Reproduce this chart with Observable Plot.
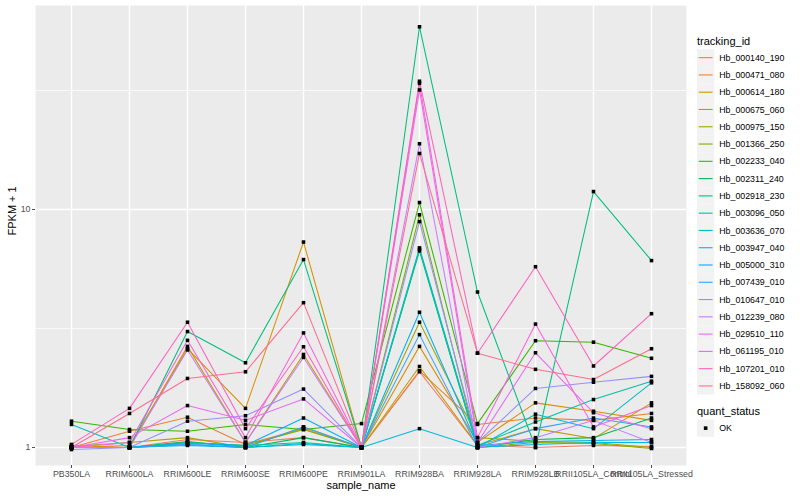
<!DOCTYPE html>
<html><head><meta charset="utf-8">
<script src="https://cdn.jsdelivr.net/npm/d3@7"></script>
<script src="https://cdn.jsdelivr.net/npm/@observablehq/plot@0.6"></script>
<style>
body{margin:0;background:#fff;font-family:"Liberation Sans",Arial,Helvetica,sans-serif}
#wrap{position:relative;width:800px;height:500px}
#legend{position:absolute;left:0;top:0;pointer-events:none}
</style></head><body><div id="wrap"></div>
<script>
const samples = ["PB350LA","RRIM600LA","RRIM600LE","RRIM600SE","RRIM600PE","RRIM901LA","RRIM928BA","RRIM928LA","RRIM928LB","RRII105LA_Control","RRII105LA_Stressed"];
const trackingIds = ["Hb_000140_190","Hb_000471_080","Hb_000614_180","Hb_000675_060","Hb_000975_150","Hb_001366_250","Hb_002233_040","Hb_002311_240","Hb_002918_230","Hb_003096_050","Hb_003636_070","Hb_003947_040","Hb_005000_310","Hb_007439_010","Hb_010647_010","Hb_012239_080","Hb_029510_110","Hb_061195_010","Hb_107201_010","Hb_158092_060"];
const colors = ["#F8766D","#EA8331","#D89000","#C09B00","#A3A500","#7CAE00","#39B600","#00BB4E","#00BF7D","#00C1A3","#00BFC4","#00BAE0","#00B0F6","#35A2FF","#9590FF","#C77CFF","#E76BF3","#FA62DB","#FF62BC","#FF6C91"];
// FPKM + 1 per tracking_id, in sample order
const seriesValues = [
  [1.02, 1.00, 1.08, 1.05, 1.10, 1.00, 2.08, 1.02, 1.00, 1.02, 1.01],
  [1.00, 1.17, 1.34, 1.03, 1.20, 1.00, 2.10, 1.25, 1.33, 1.30, 1.39],
  [1.00, 1.02, 2.60, 1.46, 7.30, 1.00, 2.66, 1.05, 1.54, 1.42, 1.30],
  [1.00, 1.00, 2.66, 1.05, 2.46, 1.00, 2.19, 1.02, 1.20, 1.09, 1.54],
  [1.01, 1.05, 1.10, 1.00, 1.22, 1.00, 3.36, 1.10, 1.06, 1.05, 1.00],
  [1.00, 1.00, 1.05, 1.02, 1.19, 1.00, 9.50, 1.00, 1.05, 1.04, 0.99],
  [1.29, 1.19, 1.17, 1.25, 1.19, 1.26, 10.7, 1.26, 2.81, 2.77, 2.37],
  [1.00, 1.00, 1.06, 1.00, 1.10, 1.00, 6.70, 1.00, 1.08, 1.10, 1.33],
  [1.00, 1.00, 3.07, 2.27, 6.16, 1.00, 58.6, 4.50, 1.00, 11.9, 6.10],
  [1.00, 1.00, 1.05, 1.02, 1.05, 1.00, 6.90, 1.02, 1.28, 1.59, 1.90],
  [1.25, 1.00, 1.03, 1.00, 1.04, 1.00, 6.80, 1.00, 1.38, 1.20, 1.87],
  [1.00, 1.00, 1.02, 1.00, 1.03, 1.00, 1.20, 1.00, 1.03, 1.05, 1.05],
  [1.00, 1.00, 1.04, 1.02, 1.33, 1.00, 3.70, 1.02, 1.06, 1.07, 1.08],
  [1.00, 1.00, 1.03, 1.00, 1.22, 1.00, 2.98, 1.00, 1.20, 1.33, 1.22],
  [0.98, 1.00, 1.29, 1.36, 1.76, 1.00, 8.90, 1.05, 1.77, 1.88, 1.99],
  [1.00, 1.00, 2.57, 1.05, 2.39, 1.00, 18.9, 1.00, 1.10, 1.30, 1.05],
  [1.00, 1.10, 1.50, 1.30, 1.60, 1.00, 31.8, 1.05, 2.50, 1.40, 1.20],
  [1.00, 1.05, 2.82, 1.10, 3.03, 1.00, 33.9, 1.10, 3.30, 1.22, 1.50],
  [1.03, 1.46, 3.36, 1.20, 2.65, 1.00, 34.6, 2.49, 5.75, 2.20, 3.65],
  [1.00, 1.39, 1.95, 2.08, 4.06, 1.00, 17.2, 2.49, 2.13, 1.93, 2.60]
];
const majorTicks = [1, 10];
const minorTicks = [Math.sqrt(10), Math.sqrt(1000)];
const statusLevels = ["OK"];

const data = [];
trackingIds.forEach((id, i) => samples.forEach((s, j) => data.push({id, sample: s, value: seriesValues[i][j], status: "OK"})));

const font = "Liberation Sans, Arial, Helvetica, sans-serif";
const chart = Plot.plot({
  width: 800, height: 500,
  marginLeft: 35, marginRight: 114, marginTop: 5, marginBottom: 35,
  style: {fontFamily: font, background: "white", overflow: "visible"},
  x: {type: "point", domain: samples, padding: 0.6},
  y: {type: "log", domain: [0.84, 72]},
  color: {domain: trackingIds, range: colors},
  marks: [
    Plot.frame({fill: "#EBEBEB", stroke: "none"}),
    Plot.ruleY(minorTicks, {stroke: "white", strokeWidth: 0.7}),
    Plot.ruleY(majorTicks, {stroke: "white", strokeWidth: 1.4}),
    Plot.ruleX(samples, {stroke: "white", strokeWidth: 1.4}),
    Plot.line(data, {x: "sample", y: "value", z: "id", stroke: "id", strokeWidth: 1.05}),
    Plot.dot(data, {x: "sample", y: "value", r: 2, symbol: "square", fill: "black", stroke: "none"}),
    Plot.axisX({tickSize: 3, tickPadding: 2, fontSize: 8.8, color: "#4D4D4D", label: null}),
    Plot.axisY({ticks: majorTicks, tickFormat: d => String(d), tickSize: 3, tickPadding: 2, fontSize: 8.8, color: "#4D4D4D", label: null}),
    Plot.text(["sample_name"], {frameAnchor: "bottom", dy: 23, fontSize: 11, fill: "black"}),
    Plot.text(["FPKM + 1"], {frameAnchor: "left", dx: -23, rotate: -90, fontSize: 11, fill: "black"})
  ]
});
const wrap = document.getElementById("wrap");
wrap.appendChild(chart);

// legend
const svg = d3.select(wrap).append("svg").attr("id", "legend").attr("width", 800).attr("height", 500)
  .style("font-family", font);
const lx = 697, key = 17.28, top0 = 49;
svg.append("text").attr("x", lx).attr("y", 44.5).attr("font-size", 11).text("tracking_id");
trackingIds.forEach((id, i) => {
  const y = top0 + key * i;
  svg.append("rect").attr("x", lx).attr("y", y).attr("width", key).attr("height", key).attr("fill", "#F2F2F2");
  svg.append("line").attr("x1", lx + 1.7).attr("x2", lx + key - 1.7).attr("y1", y + key / 2).attr("y2", y + key / 2)
    .attr("stroke", colors[i]).attr("stroke-width", 1.1);
  svg.append("text").attr("x", lx + key + 5).attr("y", y + key / 2).attr("dy", "0.35em").attr("font-size", 8.8).text(id);
});
svg.append("text").attr("x", lx).attr("y", 414.5).attr("font-size", 11).text("quant_status");
statusLevels.forEach((s, i) => {
  const y = 419.5 + key * i;
  svg.append("rect").attr("x", lx).attr("y", y).attr("width", key).attr("height", key).attr("fill", "#F2F2F2");
  svg.append("rect").attr("x", lx + key / 2 - 1.8).attr("y", y + key / 2 - 1.8).attr("width", 3.6).attr("height", 3.6).attr("fill", "black");
  svg.append("text").attr("x", lx + key + 5).attr("y", y + key / 2).attr("dy", "0.35em").attr("font-size", 8.8).text(s);
});
</script></body></html>
